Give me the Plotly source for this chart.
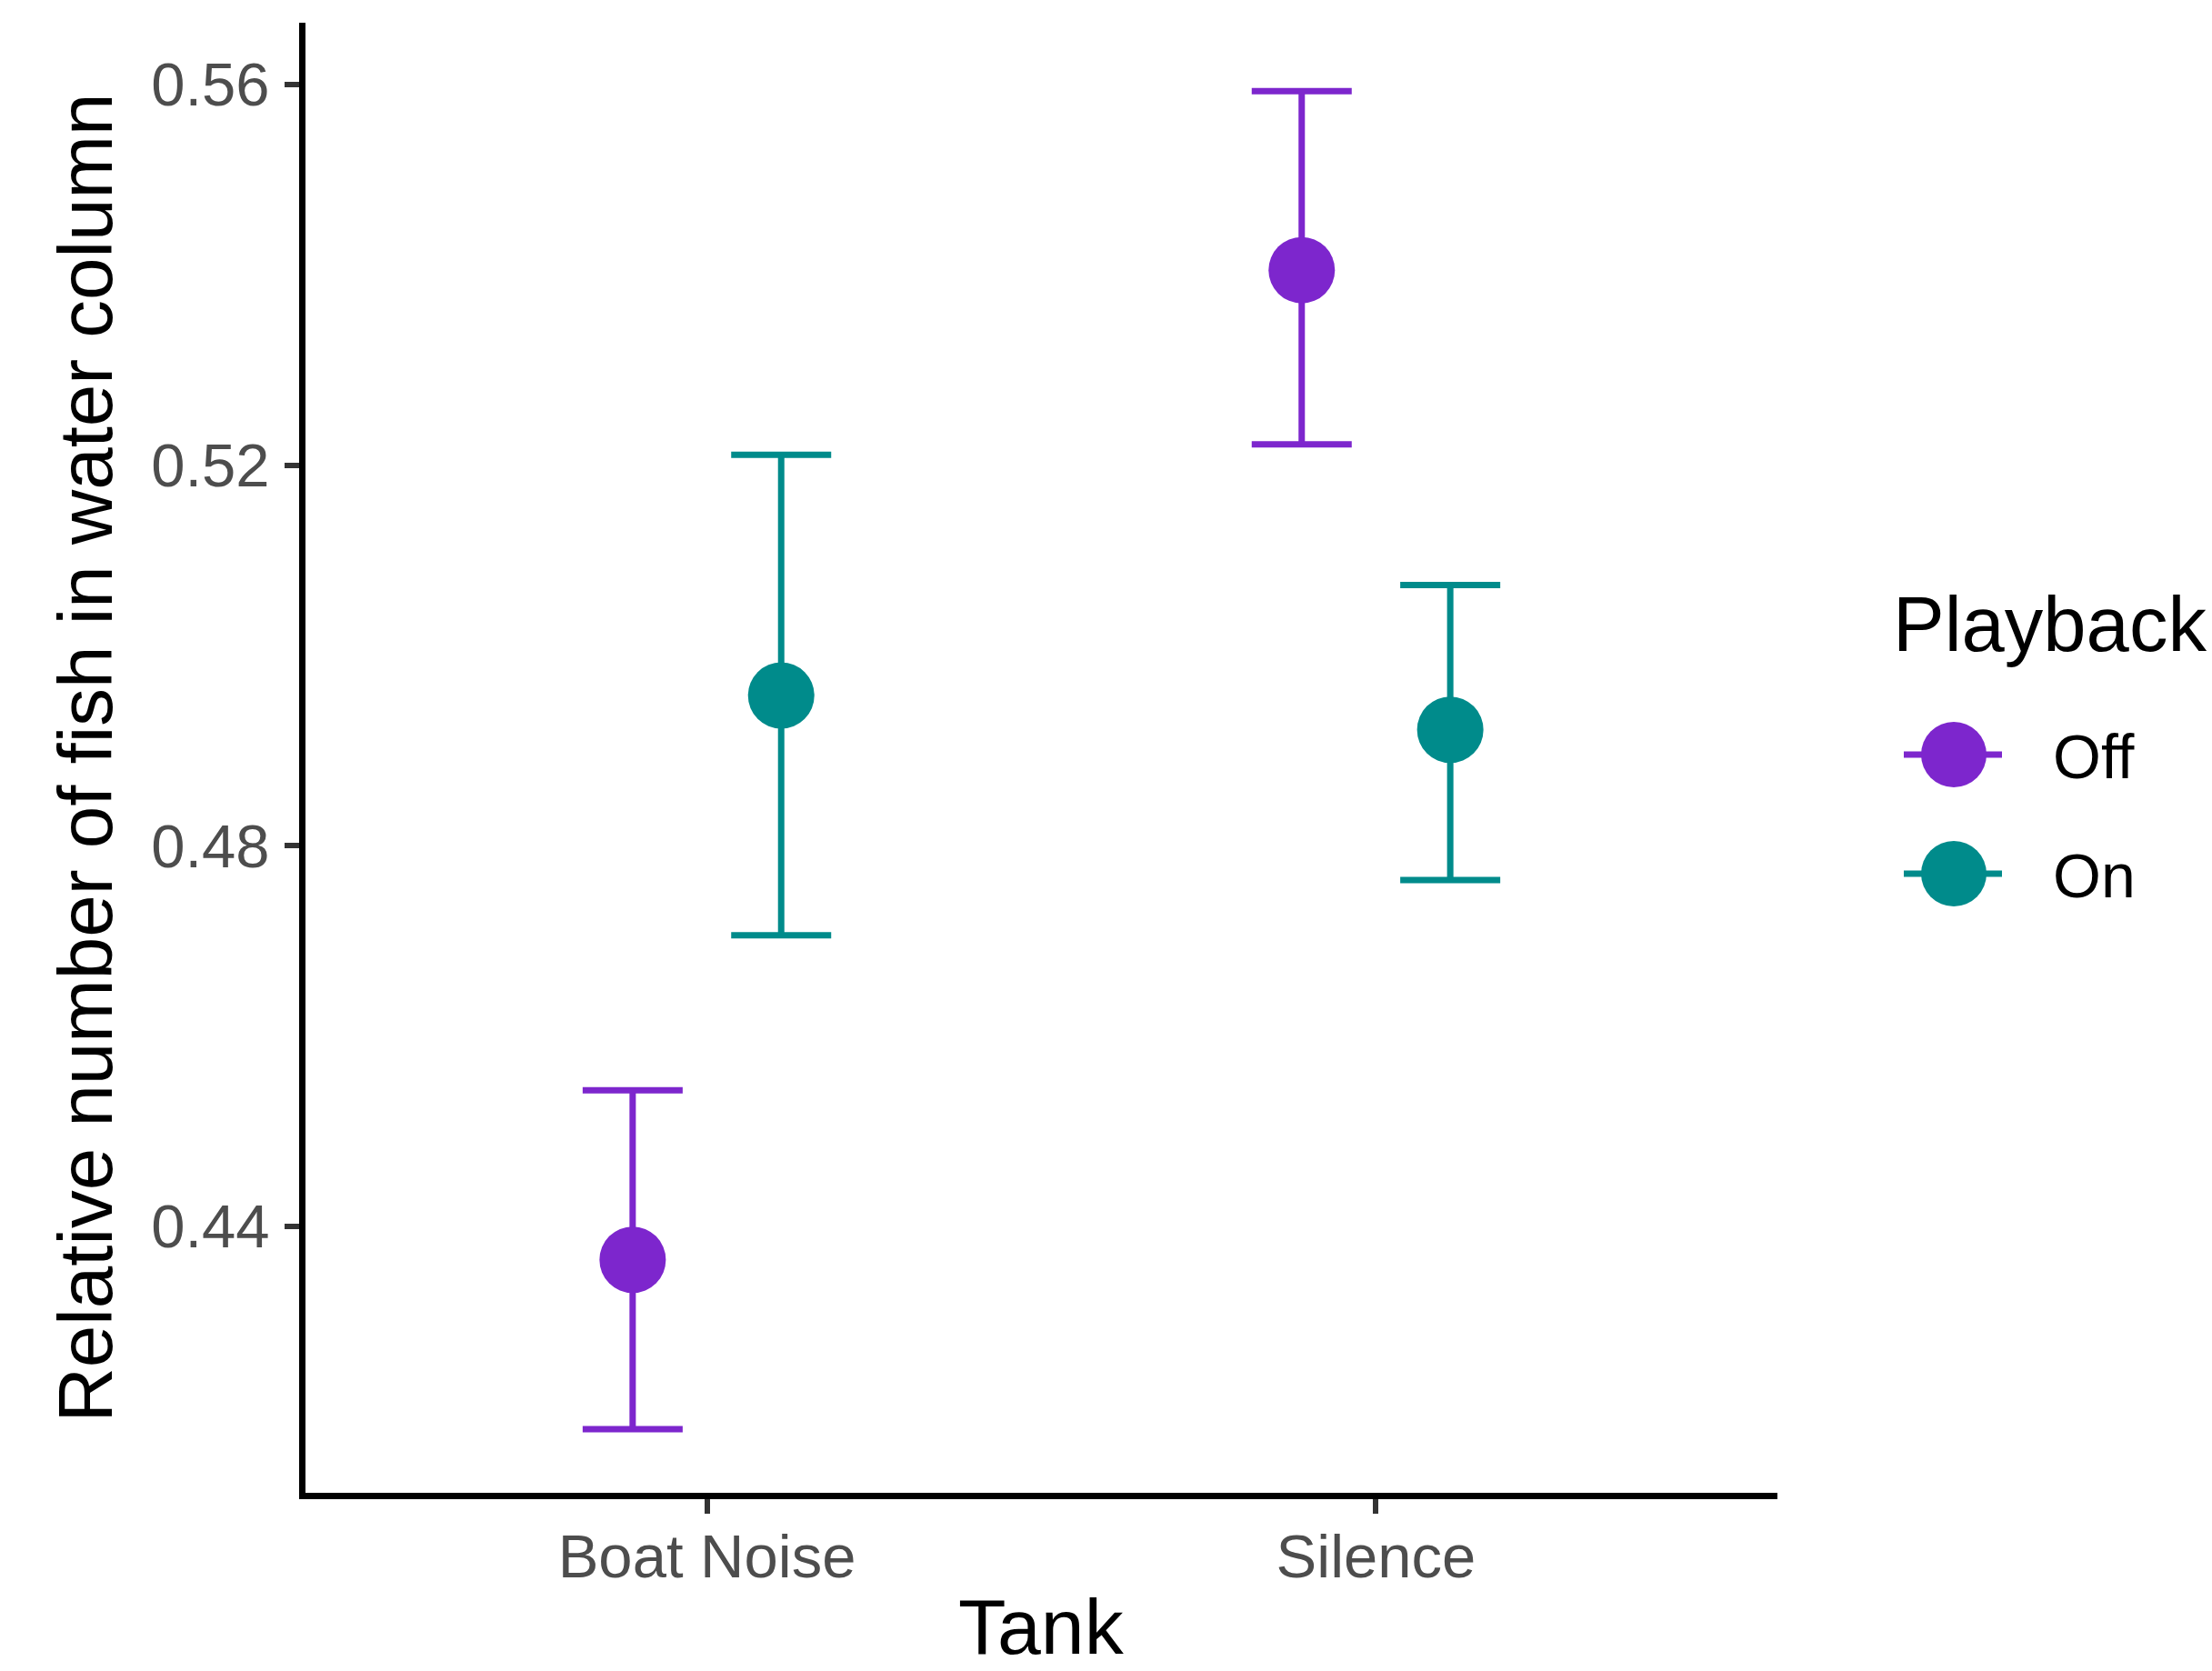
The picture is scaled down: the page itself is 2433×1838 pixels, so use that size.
import plotly.graph_objects as go

# ---- data ----
tanks = ["Boat Noise", "Silence"]
playback = ["Off", "On"]
colors = {"Off": "#7D26CD", "On": "#008B8B"}
mean_vals = {"Off": [0.4365, 0.5405], "On": [0.4958, 0.4922]}
upper_vals = {"Off": [0.4543, 0.5593], "On": [0.5211, 0.5074]}
lower_vals = {"Off": [0.4187, 0.5222], "On": [0.4706, 0.4764]}
y_ticks = [0.44, 0.48, 0.52, 0.56]
y_ticktext = ["0.44", "0.48", "0.52", "0.56"]

# ---- layout constants ----
W, H = 2433, 1838
ML, MR, MT, MB = 336, 478, 25, 196
PW, PH = W - ML - MR, H - MT - MB
FONT = "Liberation Sans, Arial, sans-serif"
DODGE = 0.111

def px_x(px):
    return (px - ML) / PW

def px_y(py):
    return (H - MB - py) / PH

fig = go.Figure()
for gi, grp in enumerate(playback):
    off = -DODGE if gi == 0 else DODGE
    xs = [i + 1 + off for i in range(len(tanks))]
    m = mean_vals[grp]
    fig.add_trace(go.Scatter(
        x=xs, y=m, mode="markers", name=grp, showlegend=False,
        marker=dict(size=73, color=colors[grp], line=dict(width=0)),
        error_y=dict(type="data", symmetric=False,
                     array=[u - v for u, v in zip(upper_vals[grp], m)],
                     arrayminus=[v - l for v, l in zip(m, lower_vals[grp])],
                     color=colors[grp], thickness=7, width=55),
    ))

# ---- custom legend (large keys like ggplot) ----
shapes = []
annotations = []
key_cx = 2149
key_cy = {"Off": 830, "On": 961}
for grp in playback:
    shapes.append(dict(type="line", xref="paper", yref="paper",
                       xsizemode="pixel", ysizemode="pixel",
                       xanchor=px_x(key_cx), yanchor=px_y(key_cy[grp]),
                       x0=-55, x1=53, y0=0, y1=0,
                       line=dict(color=colors[grp], width=7)))
    shapes.append(dict(type="circle", xref="paper", yref="paper",
                       xsizemode="pixel", ysizemode="pixel",
                       xanchor=px_x(key_cx), yanchor=px_y(key_cy[grp]),
                       x0=-36, x1=36, y0=-36, y1=36,
                       fillcolor=colors[grp], line=dict(width=0)))
    annotations.append(dict(text=grp, xref="paper", yref="paper",
                            x=px_x(2256), y=px_y(key_cy[grp] + 2),
                            xanchor="left", yanchor="middle", showarrow=False,
                            font=dict(family=FONT, size=68, color="black")))
annotations.append(dict(text="Playback", xref="paper", yref="paper",
                        x=px_x(2080), y=px_y(686), xanchor="left", yanchor="middle",
                        showarrow=False,
                        font=dict(family=FONT, size=85, color="black")))
# x-axis title (placed as annotation so it can sit close to the bottom edge)
annotations.append(dict(text="Tank", xref="paper", yref="paper",
                        x=0.5, y=px_y(1789), xanchor="center", yanchor="middle",
                        showarrow=False,
                        font=dict(family=FONT, size=86, color="black")))

fig.update_layout(
    width=W, height=H,
    margin=dict(l=ML, r=MR, t=MT, b=MB, pad=0),
    paper_bgcolor="white", plot_bgcolor="white",
    font=dict(family=FONT),
    showlegend=False,
    shapes=shapes, annotations=annotations,
    xaxis=dict(range=[0.4, 2.6], tickmode="array", tickvals=[1, 2], ticktext=tanks,
               showgrid=False, zeroline=False,
               showline=True, linecolor="black", linewidth=7,
               ticks="outside", ticklen=16, tickwidth=6, tickcolor="#333333",
               ticklabelstandoff=-10,
               tickfont=dict(family=FONT, size=67, color="#4D4D4D"),
               automargin=False),
    yaxis=dict(range=[0.41201, 0.5665], tickmode="array", tickvals=y_ticks,
               ticktext=y_ticktext,
               showgrid=False, zeroline=False,
               showline=True, linecolor="black", linewidth=7,
               ticks="outside", ticklen=16, tickwidth=6, tickcolor="#333333",
               ticklabelstandoff=3,
               tickfont=dict(family=FONT, size=67, color="#4D4D4D"),
               title=dict(text="Relative number of fish in water column",
                          font=dict(family=FONT, size=83.5, color="black"),
                          standoff=17),
               automargin=False),
)

fig.write_html("out.html", config={"displayModeBar": False},
               post_script="document.body.style.margin='0';")
